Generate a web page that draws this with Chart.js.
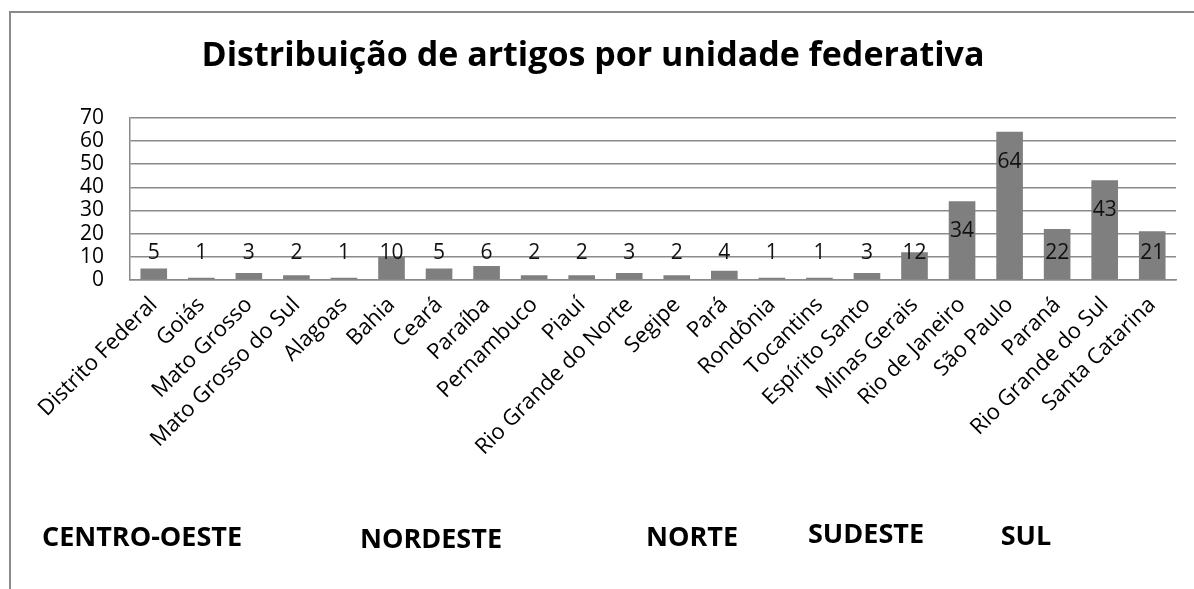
<!DOCTYPE html>
<html>
<head>
<meta charset="utf-8">
<script src="https://cdn.jsdelivr.net/npm/chart.js@4/dist/chart.umd.min.js"></script>
<style>
  html, body { margin: 0; padding: 0; background: #fff; }
  #wrap { width: 1194px; height: 589px; }
</style>
</head>
<body>
<div id="wrap"><canvas id="grafico" width="1194" height="589"></canvas></div>
<script>
// dados
var estados = ['Distrito Federal', 'Goiás', 'Mato Grosso', 'Mato Grosso do Sul', 'Alagoas', 'Bahia', 'Ceará',
    'Paraíba', 'Pernambuco', 'Piauí', 'Rio Grande do Norte', 'Segipe', 'Pará', 'Rondônia', 'Tocantins',
    'Espírito Santo', 'Minas Gerais', 'Rio de Janeiro', 'São Paulo', 'Paraná', 'Rio Grande do Sul', 'Santa Catarina'];
var artigos = [5, 1, 3, 2, 1, 10, 5, 6, 2, 2, 3, 2, 4, 1, 1, 3, 12, 34, 64, 22, 43, 21];
var ticksY = [0, 10, 20, 30, 40, 50, 60, 70];
var regioes = ['CENTRO-OESTE', 'NORDESTE', 'NORTE', 'SUDESTE', 'SUL'];

var titulo = 'Distribuição de artigos por unidade federativa';
var fonte = '"Open Sans", "DejaVu Sans", sans-serif';

// moldura (só em cima e à esquerda, como no recorte original)
var moldura = {
    id: 'moldura',
    beforeDraw: function (chart) {
        var ctx = chart.ctx;
        ctx.save();
        ctx.fillStyle = '#fff';
        ctx.fillRect(0, 0, chart.width, chart.height);
        ctx.strokeStyle = '#8a8a8a';
        ctx.lineWidth = 2;
        ctx.beginPath();
        ctx.moveTo(10, chart.height);
        ctx.lineTo(10, 12);
        ctx.lineTo(chart.width, 12);
        ctx.stroke();
        ctx.restore();
    }
};

// rótulos dos valores: acima das barras pequenas, dentro das grandes
var rotulos = {
    id: 'rotulos',
    afterDatasetsDraw: function (chart) {
        var ctx = chart.ctx;
        var y = chart.scales.y;
        var meta = chart.getDatasetMeta(0);
        ctx.save();
        ctx.font = '21px ' + fonte;
        ctx.fillStyle = '#111';
        ctx.textAlign = 'center';
        ctx.textBaseline = 'middle';
        meta.data.forEach(function (bar, i) {
            var v = artigos[i];
            var pos = Math.max(v - 12.9, 11.6);
            ctx.fillText(String(v), bar.x, y.getPixelForValue(pos));
        });
        ctx.restore();
    }
};

// nomes das regiões embaixo do gráfico
var legendaRegioes = {
    id: 'legendaRegioes',
    afterDraw: function (chart) {
        var ctx = chart.ctx;
        var xs = [142, 431, 692, 866, 1026];
        var ys = [538, 540, 538, 535, 537];
        ctx.save();
        ctx.font = 'bold 27px ' + fonte;
        ctx.fillStyle = '#000';
        ctx.textAlign = 'center';
        ctx.textBaseline = 'middle';
        regioes.forEach(function (r, i) {
            ctx.fillText(r, xs[i], ys[i]);
        });
        ctx.restore();
    }
};

function renderGrafico() {
    var ctx = document.getElementById('grafico').getContext('2d');
    window.grafico = new Chart(ctx, {
        type: 'bar',
        data: {
            labels: estados,
            datasets: [{
                label: 'Artigos',
                data: artigos,
                backgroundColor: '#7f7f7f',
                borderWidth: 0,
                categoryPercentage: 1,
                barPercentage: 0.56
            }]
        },
        options: {
            responsive: false,
            animation: false,
            layout: { padding: { left: 10, right: 18, top: 12, bottom: 0 } },
            plugins: {
                legend: { display: false },
                tooltip: { enabled: false },
                title: {
                    display: true,
                    text: titulo,
                    color: '#000',
                    font: { family: fonte, size: 34, weight: 'bold' },
                    padding: { top: 24, bottom: 41 }
                }
            },
            scales: {
                x: {
                    grid: { display: false, drawTicks: false },
                    border: { display: true, color: '#8a8a8a', width: 1.5 },
                    ticks: {
                        color: '#000',
                        font: { family: fonte, size: 22 },
                        minRotation: 45,
                        maxRotation: 45,
                        autoSkip: false,
                        padding: 12
                    },
                    afterFit: function (s) { s.height = 309; }
                },
                y: {
                    min: 0,
                    max: 70,
                    grid: { color: '#8a8a8a', lineWidth: 1.5, drawTicks: false },
                    border: { display: true, color: '#8a8a8a', width: 1.5 },
                    afterBuildTicks: function (s) {
                        s.ticks = ticksY.map(function (v) { return { value: v }; });
                    },
                    ticks: {
                        color: '#000',
                        font: { family: fonte, size: 21 },
                        autoSkip: false,
                        padding: 26
                    },
                    afterFit: function (s) { s.width = 120; }
                }
            }
        },
        plugins: [moldura, rotulos, legendaRegioes]
    });
}

renderGrafico();
</script>
</body>
</html>
